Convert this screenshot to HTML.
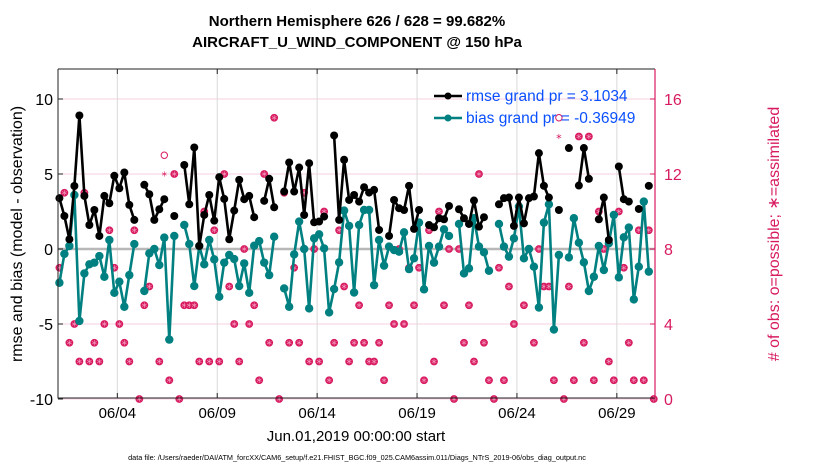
<!DOCTYPE html>
<html><head><meta charset="utf-8"><style>
body{margin:0;background:#fff;}
svg text{font-family:"Liberation Sans",Arial,sans-serif;}
</style></head><body>
<svg id="chart" width="830" height="470" viewBox="0 0 830 470" xmlns="http://www.w3.org/2000/svg">
<rect x="0" y="0" width="830" height="470" fill="#fff"/>
<g id="grid"></g>
<g id="marks"></g>
<g id="axes"></g>
<text x="357" y="26" text-anchor="middle" font-size="15" font-weight="bold">Northern Hemisphere 626 / 628 = 99.682%</text>
<text x="357" y="47" text-anchor="middle" font-size="15" font-weight="bold">AIRCRAFT_U_WIND_COMPONENT @ 150 hPa</text>
<text transform="translate(22,234) rotate(-90)" text-anchor="middle" font-size="16">rmse and bias (model - observation)</text>
<text transform="translate(779,234) rotate(-90)" text-anchor="middle" font-size="16" fill="#d81b60"># of obs: o=possible; ∗=assimilated</text>
<text x="356" y="441" text-anchor="middle" font-size="15">Jun.01,2019 00:00:00 start</text>
<text x="357" y="460" text-anchor="middle" font-size="7.3">data file: /Users/raeder/DAI/ATM_forcXX/CAM6_setup/f.e21.FHIST_BGC.f09_025.CAM6assim.011/Diags_NTrS_2019-06/obs_diag_output.nc</text>
<g>
<g>
<line x1="434" y1="96" x2="462" y2="96" stroke="#000" stroke-width="2.5"/>
<circle cx="448" cy="96" r="3.5" fill="#000"/>
<text x="466" y="101" font-size="15.5" fill="#0a50ff">rmse grand pr = 3.1034</text></g>
<g>
<line x1="434" y1="118" x2="462" y2="118" stroke="#008080" stroke-width="2.5"/>
<circle cx="448" cy="118" r="3.5" fill="#008080"/>
<text x="466" y="123" font-size="15.5" fill="#0a50ff">bias grand pr = -0.36949</text></g>
</g>
</svg>
<script>
const rmse=[3.39,2.2,0.65,4.2,8.9,3.54,1.6,2.6,0.87,3.54,3.05,4.88,4.05,5.1,2.94,1.94,null,4.28,3.65,1.94,2.65,3.32,null,2.2,null,5.6,2.98,6.77,0.2,2.27,
3.6,1.89,4.79,3.34,0.65,2.56,4.61,3.32,3.54,2.12,null,3.21,4.68,2.78,null,3.83,5.77,3.83,5.43,2.27,5.72,1.78,1.83,2.16,null,7.57,1.94,5.95,3.27,3.6,
3.16,4.12,3.76,3.94,1.27,null,0.87,3.27,2.72,2.6,4.21,1.34,2.6,null,1.6,1.45,2.05,1.98,2.87,null,2.65,2.05,1.67,3.23,1.49,2.12,null,null,2.98,3.39,
3.43,1.54,3.43,1.71,3.39,3.5,6.39,4.21,3.43,null,2.6,null,6.73,null,4.23,6.73,4.68,null,1.98,3.43,0.6,null,5.5,3.32,3.16,null,2.67,null,4.21,null];
const bias=[-2.25,-0.33,0.2,3.6,-4.8,-1.63,-1.02,-0.91,-0.47,-1.85,0.6,-2.92,-2.18,-3.85,-1.74,0.33,null,-2.8,-0.29,0,-1.07,0.76,-6.04,0.87,null,1.6,0.33,-2.47,0.2,-1.02,
0.6,-0.69,-3.18,-0.91,-0.4,-0.67,-2.47,-0.96,-2.92,0.22,0.53,-0.91,-1.74,0.82,null,-2.63,-3.85,-0.36,1.83,0,-3.96,0.71,0.98,0.04,-4.23,-2.67,-0.89,2.56,1.54,-2.9,
1.6,2.6,2.6,-2.41,0.6,-1.11,0.16,-0.07,-0.18,1.11,-1.34,-0.62,1.76,-2.69,0.2,-0.91,0.16,1.31,0.87,null,1.67,-1.63,-1.29,2.05,0.16,-0.22,-1.45,null,1.67,0.16,
-0.51,0.71,2.83,-0.62,0,-1.18,-3.9,1.76,2.98,-5.37,-0.4,null,-0.56,2.05,0.42,-0.89,-2.8,-1.85,0.2,-1.4,0.38,2.27,-1.89,0.78,1.43,-3.36,-1.18,3.16,-1.51,null];
const assimilated=[7,11,3,4,2,11,2,3,2,4,9,7,4,3,2,9,0,5,6,8,2,12,1,12,0,5,5,5,2,10,
2,9,2,12,6,4,2,8,4,5,1,12,3,15,0,11,3,7,3,11,2,8,2,10,1,3,9,6,2,3,
5,3,2,2,3,1,5,4,8,4,7,5,7,1,9,2,10,5,8,0,8,3,5,2,12,3,1,0,7,1,
6,4,10,5,8,3,8,6,6,1,14,0,6,1,14,3,14,1,10,8,2,1,10,7,3,1,9,1,9,0];
const possible=[7,11,3,4,2,11,2,3,2,4,9,7,4,3,2,9,0,5,6,8,2,13,1,12,0,5,5,5,2,10,
2,9,2,12,6,4,2,8,4,5,1,12,3,15,0,11,3,7,3,11,2,8,2,10,1,3,9,6,2,3,
5,3,2,2,3,1,5,4,8,4,7,5,7,1,9,2,10,5,8,0,8,3,5,2,12,3,1,0,7,1,
6,4,10,5,8,3,8,6,6,1,15,0,6,1,14,3,14,1,10,8,2,1,10,7,3,1,9,1,9,0];
const leftTicks=[-10,-5,0,5,10];
const rightTicks=[0,4,8,12,16];
const dateTicks=[3,8,13,18,23,28];
const dateLabels=["06/04","06/09","06/14","06/19","06/24","06/29"];
const dayStart=0.1, dayStep=0.25;

const NS="http://www.w3.org/2000/svg";
const X0=58,X1=655,Y0=69,Y1=398;
function xS(d){return 57.4+19.98*d;}
function yL(v){return 249-15*v;}
function yR(c){return yL(c/0.8-10);}
function mk(tag,attrs,parent){const e=document.createElementNS(NS,tag);for(const k in attrs)e.setAttribute(k,attrs[k]);parent.appendChild(e);return e;}
const grid=document.getElementById('grid'),marks=document.getElementById('marks'),axes=document.getElementById('axes');

rightTicks.forEach(c=>{const l=mk('line',{x1:X0,x2:X1,y1:yR(c),y2:yR(c),stroke:'#f7cfe0','stroke-width':1},grid);

});
dateTicks.forEach(d=>{const l=mk('line',{x1:xS(d),x2:xS(d),y1:Y0,y2:Y1,stroke:'#d9d9d9','stroke-width':1},grid);

});
const z=mk('line',{x1:X0,x2:X1,y1:yL(0),y2:yL(0),stroke:'#b8b8b8','stroke-width':2.5},grid);



assimilated.forEach((c,i)=>{
 const x=xS(dayStart+i*dayStep);
 if(possible[i]!==c){const pc=mk('circle',{cx:x,cy:yR(possible[i]),r:3.2,fill:'none',stroke:'#d81b60','stroke-width':1},marks);
 
 }
 const g=mk('g',{},marks);
 
 
 const y=yR(c);
 if(possible[i]===c) mk('circle',{cx:x,cy:y,r:3.9,fill:'#d81b60'},g);
 const col=possible[i]===c?'#f4a6c4':'#d81b60';
 for(let a=0;a<3;a++){const ang=a*Math.PI/3+Math.PI/2;mk('line',{x1:x-2.6*Math.cos(ang),y1:y-2.6*Math.sin(ang),x2:x+2.6*Math.cos(ang),y2:y+2.6*Math.sin(ang),stroke:col,'stroke-width':0.6},g);}
});

function series(arr,color,name){
 let d='',pen=false;
 arr.forEach((v,i)=>{if(v===null){pen=false;return;}const x=xS(dayStart+i*dayStep),y=yL(v);d+=(pen?'L':'M')+x.toFixed(1)+' '+y.toFixed(1)+' ';pen=true;});
 const p=mk('path',{d:d,fill:'none',stroke:color,'stroke-width':2.6,'stroke-linejoin':'round'},marks);
 
 
 arr.forEach((v,i)=>{if(v===null)return;const c=mk('circle',{cx:xS(dayStart+i*dayStep),cy:yL(v),r:name==='rmse'?4:4.2,fill:color},marks);
 
 });
}
series(bias,'#008080','bias');
series(rmse,'#000','rmse');

const box=mk('path',{d:`M${X0} ${Y0}H${X1}M${X0} ${Y0}V${Y1}H${X1}`,fill:'none',stroke:'#222','stroke-width':1},axes);


const ra=mk('line',{x1:X1,x2:X1,y1:Y0,y2:Y1,stroke:'#d81b60','stroke-width':1.2},axes);


leftTicks.forEach(v=>{
 mk('line',{x1:X0,x2:X0+5,y1:yL(v),y2:yL(v),stroke:'#222'},axes);
 const t=mk('text',{x:X0-5,y:yL(v)+6,'text-anchor':'end','font-size':16},axes);t.textContent=v;
 
 
});
rightTicks.forEach(c=>{
 mk('line',{x1:X1-5,x2:X1,y1:yR(c),y2:yR(c),stroke:'#d81b60'},axes);
 const t=mk('text',{x:X1+9,y:yR(c)+6,'font-size':16,fill:'#d81b60'},axes);t.textContent=c;
 
 
});
dateTicks.forEach((d,i)=>{
 mk('line',{x1:xS(d),x2:xS(d),y1:Y1,y2:Y1-5,stroke:'#222'},axes);
 mk('line',{x1:xS(d),x2:xS(d),y1:Y0,y2:Y0+5,stroke:'#222'},axes);
 const t=mk('text',{x:xS(d),y:418,'text-anchor':'middle','font-size':15},axes);t.textContent=dateLabels[i];
 
 
});
</script>
</body></html>
